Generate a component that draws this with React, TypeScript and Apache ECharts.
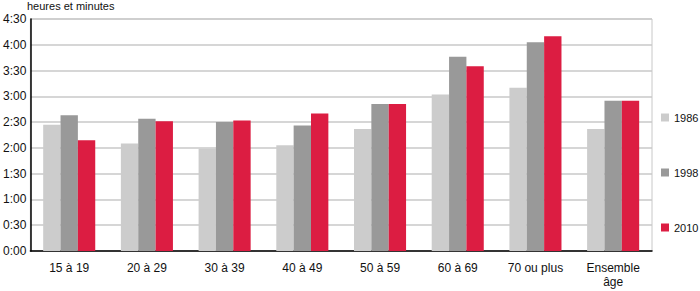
import React, { useEffect, useRef } from "react";
import * as echarts from "echarts";

const categories = ["15 à 19", "20 à 29", "30 à 39", "40 à 49", "50 à 59", "60 à 69", "70 ou plus", "Ensemble\nâge"];
const seriesNames = ["1986", "1998", "2010"];
// minutes
const values1986 = [147, 125, 119, 123, 142, 182, 190, 142];
const values1998 = [158, 154, 150, 146, 171, 226, 243, 175];
const values2010 = [129, 151, 152, 160, 171, 215, 250, 175];
const colors = ["#cccccc", "#999999", "#dc1d42"];
const yTicks = [0, 30, 60, 90, 120, 150, 180, 210, 240, 270];

const fmt = (v: number) => {
  const h = Math.floor(v / 60);
  const m = v % 60;
  return `${h}:${m < 10 ? "0" + m : m}`;
};

export default function App() {
  const ref = useRef<HTMLDivElement>(null);
  useEffect(() => {
    if (!ref.current) return;
    const chart = echarts.init(ref.current, undefined, { renderer: "svg" });
    const font = "'Liberation Sans', Arial, sans-serif";
    const data = [values1986, values1998, values2010];
    chart.setOption({
      animation: false,
      textStyle: { fontFamily: font },
      grid: {
        left: 28,
        right: 48,
        top: 19,
        bottom: 40,
        show: true,
        borderColor: "#c8c8c8",
        borderWidth: 1,
      },
      title: {
        text: "heures et minutes",
        left: 22,
        top: -5,
        textStyle: { fontFamily: font, fontSize: 11, fontWeight: "normal", color: "#111" },
      },
      legend: {
        orient: "vertical",
        left: 656,
        top: 107,
        itemWidth: 8,
        itemHeight: 8,
        itemGap: 44,
        icon: "rect",
        data: seriesNames,
        textStyle: { fontFamily: font, fontSize: 11, color: "#111" },
      },
      xAxis: {
        type: "category",
        data: categories,
        axisLine: { lineStyle: { color: "#000", width: 1.5 } },
        axisTick: { show: false },
        axisLabel: { fontFamily: font, fontSize: 12, color: "#111", margin: 10, lineHeight: 14 },
      },
      yAxis: {
        type: "value",
        min: 0,
        max: 270,
        interval: 30,
        axisLine: { show: true, lineStyle: { color: "#000", width: 1.5 } },
        axisTick: { show: false },
        splitLine: { lineStyle: { color: "#c8c8c8", width: 1.5 } },
        axisLabel: {
          fontFamily: font,
          fontSize: 12,
          color: "#111",
          margin: 4,
          formatter: (v: number) => (yTicks.includes(v) ? fmt(v) : ""),
        },
      },
      series: seriesNames.map((name, i) => ({
        name,
        type: "bar",
        data: data[i],
        itemStyle: { color: colors[i] },
        barGap: "0%",
        barCategoryGap: "33%",
      })),
    });
    return () => chart.dispose();
  }, []);
  return <div ref={ref} style={{ width: 700, height: 291, position: "absolute", left: 0, top: 0 }} />;
}
